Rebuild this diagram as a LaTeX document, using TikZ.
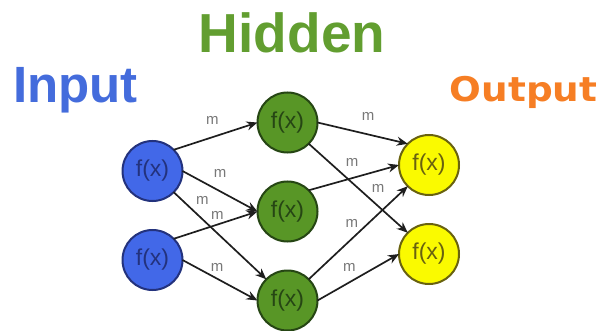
\documentclass[tikz,border=0pt]{standalone}
\usepackage{fontspec}
\setmainfont{Liberation Sans}
\newfontfamily\outfont{DejaVu Sans Bold}[FakeStretch=1.1]
\usetikzlibrary{positioning, arrows.meta}

\definecolor{infill}{RGB}{66,104,232}
\definecolor{indark}{RGB}{35,50,125}
\definecolor{hidfill}{RGB}{88,150,38}
\definecolor{hiddark}{RGB}{38,70,20}
\definecolor{outfill}{RGB}{250,250,0}
\definecolor{outdark}{RGB}{105,98,15}
\definecolor{intitle}{RGB}{68,108,220}
\definecolor{hidtitle}{RGB}{98,158,48}
\definecolor{outtitle}{RGB}{246,126,36}
\definecolor{wgray}{RGB}{120,120,120}
\definecolor{edgegray}{RGB}{30,30,30}

\begin{document}
\begin{tikzpicture}[
        x=0.5pt, y=-0.5pt,
        node distance = 14.5pt,
        >={Stealth[length=5.5pt, width=4.5pt]},
        unit/.style = {circle, draw=#1dark, fill=#1fill, text=#1dark, line width=1pt,
                    minimum size=30pt, inner sep=0pt, outer sep=0pt,
                    font=\fontsize{11.5}{12}\selectfont},
        wt/.style = {font=\fontsize{7.5}{8}\selectfont, text=wgray, inner sep=0pt},
        link/.style = {->, draw=edgegray, line width=0.85pt}
                    ]
        \useasboundingbox (0,0) rectangle (598,331);
        % titles
        \node (input) [anchor=base, text=intitle, font=\fontsize{25.5}{26}\selectfont\bfseries] at (75.5,103) {Input};
        \node (hidden) [anchor=base, text=hidtitle, font=\fontsize{27.5}{28}\selectfont\bfseries] at (292,53) {Hidden};
        \node (output) [anchor=base, text=outtitle, font=\fontsize{17}{18}\selectfont\outfont] at (523.5,102) {Output};
        % units
        \node (i1) [unit=in] at (152.5,171) {f(x)};
        \node (i2) [unit=in, below=of i1] {f(x)};
        \node (h1) [unit=hid] at (287.5,122.5) {f(x)};
        \node (h2) [unit=hid, below=of h1] {f(x)};
        \node (h3) [unit=hid, below=of h2] {f(x)};
        \node (o1) [unit=out] at (429,165) {f(x)};
        \node (o2) [unit=out, below=of o1] {f(x)};
        %
        \draw[link] (i1.north east) -- node[wt, pos=0.46, above=6pt] (w1) {m} (h1.west);
        \draw[link] (i1.east) -- node[wt, pos=0.50, above=6.5pt] (w2) {m} (h2.west);
        \draw[link] (i1.south east) -- node[wt, pos=0.31, above=7pt] (w3) {m} (h3.north west);
        \draw[link] (i2.north east) -- node[wt, pos=0.52, above=2pt] (w4) {m} (h2.west);
        \draw[link] (i2.east) -- node[wt, pos=0.46, above=3pt] (w5) {m} (h3.west);
        \draw[link] (h1.east) -- node[wt, pos=0.56, above=6.5pt] (w6) {m} (o1.north west);
        \draw[link] (h2.north east) -- node[wt, pos=0.48, above=5.5pt] (w7) {m} (o1.west);
        \draw[link] (h1.south east) -- node[wt, pos=0.70, above=6.5pt] (w8) {m} (o2.north west);
        \draw[link] (h3.north east) -- node[wt, pos=0.435, above=5pt] (w9) {m} (o1.south west);
        \draw[link] (h3.east) -- node[wt, pos=0.39, above=4.8pt] (w10) {m} (o2.west);
\end{tikzpicture}
\end{document}
